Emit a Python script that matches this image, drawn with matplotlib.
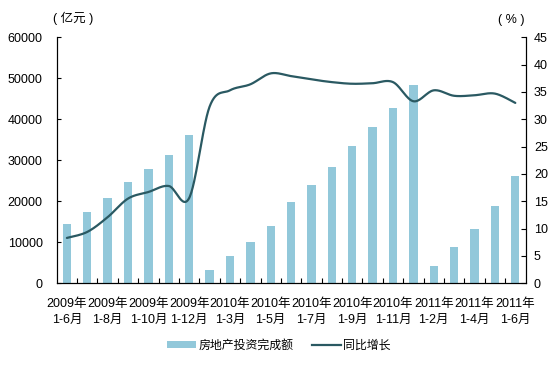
import numpy as np
import matplotlib
matplotlib.use("Agg")
import matplotlib.pyplot as plt
from matplotlib.lines import Line2D
from matplotlib.patches import Patch

plt.rcParams['font.family'] = ['Liberation Sans', 'Noto Sans CJK SC', 'DejaVu Sans']

periods = ["2009年\n1-6月", "2009年\n1-7月", "2009年\n1-8月", "2009年\n1-9月", "2009年\n1-10月",
           "2009年\n1-11月", "2009年\n1-12月",
           "2010年\n1-2月", "2010年\n1-3月", "2010年\n1-4月", "2010年\n1-5月", "2010年\n1-6月",
           "2010年\n1-7月", "2010年\n1-8月", "2010年\n1-9月", "2010年\n1-10月", "2010年\n1-11月",
           "2010年\n1-12月",
           "2011年\n1-2月", "2011年\n1-3月", "2011年\n1-4月", "2011年\n1-5月", "2011年\n1-6月"]
investment = [14364, 17378, 20808, 24648, 27863, 31220, 36232,
              3223, 6594, 10037, 14062, 19747, 24021, 28412, 33484, 38210, 42697, 48267,
              4136, 8846, 13290, 18737, 26250]
growth = [8.3, 9.4, 12.1, 15.5, 16.7, 17.8, 15.6,
          32.3, 35.3, 36.4, 38.4, 37.9, 37.3, 36.8, 36.5, 36.6, 36.8, 33.3,
          35.3, 34.3, 34.4, 34.7, 33.0]

bar_color = "#92c8da"
line_color = "#2a5962"

fig = plt.figure(figsize=(5.59, 3.68), dpi=100)
ax = fig.add_axes([56.7/559, 1-283.3/368, (525.5-56.7)/559, (283.3-37.3)/368])
ax2 = ax.twinx()

n = len(investment)
x = np.arange(n)
ax.bar(x, investment, width=0.41, color=bar_color, zorder=2)

# smooth curve (Catmull-Rom style, like a spreadsheet smoothed line)
g = np.array(growth, dtype=float)
xs, ys = [], []
for i in range(n - 1):
    i0, i3 = max(i - 1, 0), min(i + 2, n - 1)
    p0, p1, p2, p3 = g[i0], g[i], g[i + 1], g[i3]
    c1 = p1 + (p2 - p0) / 6.0
    c2 = p2 - (p3 - p1) / 6.0
    t = np.linspace(0, 1, 30)
    xc1 = i + ((i + 1) - i0) / 6.0
    xc2 = (i + 1) - (i3 - i) / 6.0
    bx = (1-t)**3*i + 3*(1-t)**2*t*xc1 + 3*(1-t)*t**2*xc2 + t**3*(i + 1)
    by = (1-t)**3*p1 + 3*(1-t)**2*t*c1 + 3*(1-t)*t**2*c2 + t**3*p2
    xs.extend(bx)
    ys.extend(by)
ax2.plot(xs, ys, color=line_color, lw=1.6, solid_capstyle='round')

ax.set_xlim(-0.5, n - 0.5)
ax.set_ylim(0, 60000)
ax2.set_ylim(0, 45)
ax.set_yticks(np.arange(0, 60001, 10000))
ax2.set_yticks(np.arange(0, 46, 5))

ax.set_xticks(x[::2])
ax.set_xticklabels(periods[::2], fontsize=9, linespacing=1.42)
ax.set_xticks(np.arange(0.5, n - 1, 1), minor=True)
ax.tick_params(axis='x', which='major', length=0, pad=10.5)
ax.tick_params(axis='x', which='minor', direction='in', length=3.5, width=0.8)
ax.tick_params(axis='y', direction='in', length=3, width=0.8, labelsize=9, pad=10)
ax2.tick_params(axis='y', direction='in', length=3.3, width=0.8, labelsize=9, pad=6)

for a in (ax, ax2):
    a.spines['top'].set_visible(False)
    for s in ('left', 'right', 'bottom'):
        a.spines[s].set_linewidth(0.8)
        a.spines[s].set_color('black')

fig.text(53/559, 1-18/368, "( 亿元 )", fontsize=9, ha='left', va='center')
fig.text(511/559, 1-20/368, "( % )", fontsize=9, ha='center', va='center')

handles = [Patch(facecolor=bar_color, edgecolor='none'),
           Line2D([0], [0], color=line_color, lw=1.6)]
leg = fig.legend(handles, ["房地产投资完成额", "同比增长"], loc='center',
                 bbox_to_anchor=(279/559, 1-346/368), ncol=2, frameon=False,
                 fontsize=8.6, handlelength=2.4, handleheight=0.5, columnspacing=1.6,
                 handletextpad=0.2)

fig.savefig("out.png", dpi=100)
